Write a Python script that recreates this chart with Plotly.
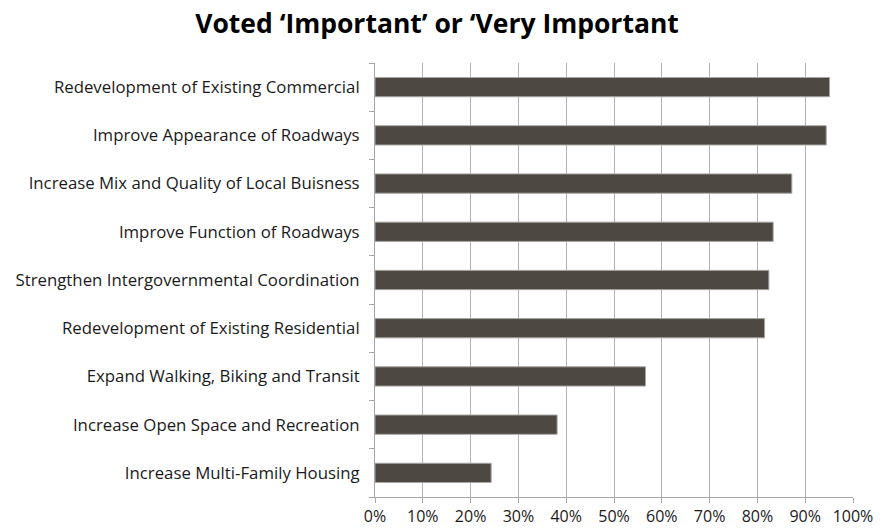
import plotly.graph_objects as go

categories = [
    "Redevelopment of Existing Commercial",
    "Improve Appearance of Roadways",
    "Increase Mix and Quality of Local Buisness",
    "Improve Function of Roadways",
    "Strengthen Intergovernmental Coordination",
    "Redevelopment of Existing Residential",
    "Expand Walking, Biking and Transit",
    "Increase Open Space and Recreation",
    "Increase Multi-Family Housing",
]
values = [0.951, 0.944, 0.872, 0.833, 0.824, 0.815, 0.566, 0.381, 0.243]

title_text = "Voted \u2018Important\u2019 or \u2018Very Important"

W, H = 888, 531

fig = go.Figure()
fig.add_trace(go.Bar(
    y=categories,
    x=values,
    orientation="h",
    marker=dict(color="#4d4842", line=dict(color="#a8a6a3", width=1)),
    width=0.4,
))

fig.update_layout(
    width=W, height=H,
    margin=dict(l=375, r=35, t=63, b=34, autoexpand=False),
    paper_bgcolor="white", plot_bgcolor="white",
    showlegend=False,
    title=dict(text="<b>" + title_text + "</b>", x=437 / W, xanchor="center",
               xref="container", yref="container",
               y=1 - 24 / H, yanchor="middle",
               font=dict(family="Open Sans", size=26.5, color="#000000")),
    font=dict(family="Open Sans", size=16, color="#1a1a1a"),
)
fig.update_xaxes(
    range=[0, 1], dtick=0.1, tick0=0, tickformat=".0%",
    showgrid=True, gridcolor="#b3b3b3", gridwidth=1,
    showline=True, linecolor="#a6a6a6", linewidth=1,
    ticks="outside", ticklen=5, tickcolor="#a6a6a6",
    zeroline=False, fixedrange=True,
    tickfont=dict(family="Open Sans", size=16, color="#1a1a1a"),
)
fig.update_yaxes(
    categoryorder="array", categoryarray=categories[::-1],
    showline=True, linecolor="#a6a6a6", linewidth=1,
    ticks="outside", ticklen=5, tickcolor="#a6a6a6",
    tickson="boundaries", showgrid=False,
    ticklabelstandoff=11,
    tickfont=dict(family="Open Sans", size=16.8, color="#1a1a1a"),
)

fig.write_html("out.html", config={"displayModeBar": False},
               post_script="document.body.style.margin='0px';")
